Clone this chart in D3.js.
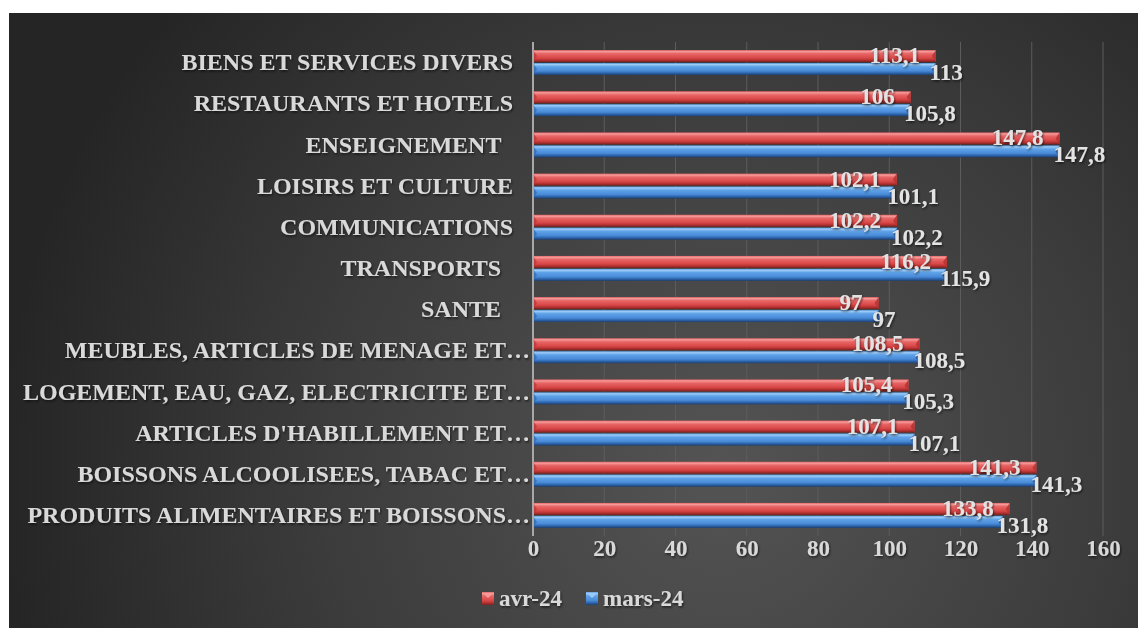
<!DOCTYPE html>
<html>
<head>
<meta charset="utf-8">
<script src="https://cdn.jsdelivr.net/npm/d3@7"></script>
<style>
  body { margin: 0; background: #fff; }
  svg text { font-family: "Liberation Serif", "Times New Roman", serif; font-weight: bold; white-space: pre; }
</style>
</head>
<body>
<div id="graph"></div>
<script>
// categories, top to bottom as shown
var categories = [
  "BIENS ET SERVICES DIVERS",
  "RESTAURANTS ET HOTELS",
  "ENSEIGNEMENT  ",
  "LOISIRS ET CULTURE",
  "COMMUNICATIONS",
  "TRANSPORTS  ",
  "SANTE  ",
  "MEUBLES, ARTICLES DE MENAGE ET\u2026",
  "LOGEMENT, EAU, GAZ, ELECTRICITE ET\u2026",
  "ARTICLES D'HABILLEMENT ET\u2026",
  "BOISSONS ALCOOLISEES, TABAC ET\u2026",
  "PRODUITS ALIMENTAIRES ET BOISSONS\u2026"
];
var seriesNames = ["avr-24", "mars-24"];
var avr24 = [113.1, 106, 147.8, 102.1, 102.2, 116.2, 97, 108.5, 105.4, 107.1, 141.3, 133.8];
var mars24 = [113, 105.8, 147.8, 101.1, 102.2, 115.9, 97, 108.5, 105.3, 107.1, 141.3, 131.8];
var xTicks = [0, 20, 40, 60, 80, 100, 120, 140, 160];

window.onload = start;

function start() {
    var width = 1138;
    var height = 628;

    var svg = d3.select('#graph')
        .append('svg')
        .attr('width', width)
        .attr('height', height);

    var defs = svg.append('defs');

    // dark background with a soft light patch
    var bg = defs.append('radialGradient')
        .attr('id', 'bg')
        .attr('gradientUnits', 'userSpaceOnUse')
        .attr('cx', 720).attr('cy', 470).attr('r', 720);
    bg.append('stop').attr('offset', '0%').attr('stop-color', '#545454');
    bg.append('stop').attr('offset', '55%').attr('stop-color', '#3c3c3c');
    bg.append('stop').attr('offset', '100%').attr('stop-color', '#252525');

    // soft shadow under the labels
    var sh = defs.append('filter').attr('id', 'shadow')
        .attr('x', '-10%').attr('y', '-20%').attr('width', '130%').attr('height', '150%');
    sh.append('feDropShadow')
        .attr('dx', 1).attr('dy', 1.5).attr('stdDeviation', 1)
        .attr('flood-color', '#000').attr('flood-opacity', 0.6);

    // bevelled bar fills
    var fills = {
        "avr-24": ['#f59a9a', '#e86565', '#d94848', '#b93434', '#7a2020'],
        "mars-24": ['#9ccaf6', '#5ea2e8', '#4a8bd8', '#2f68b0', '#1d3f70']
    };
    seriesNames.forEach(function(s, i) {
        var g = defs.append('linearGradient')
            .attr('id', 'fill' + i)
            .attr('x1', 0).attr('y1', 0).attr('x2', 0).attr('y2', 1);
        var c = fills[s];
        g.append('stop').attr('offset', '0%').attr('stop-color', c[1]);
        g.append('stop').attr('offset', '12%').attr('stop-color', c[0]);
        g.append('stop').attr('offset', '30%').attr('stop-color', c[1]);
        g.append('stop').attr('offset', '65%').attr('stop-color', c[2]);
        g.append('stop').attr('offset', '82%').attr('stop-color', c[3]);
        g.append('stop').attr('offset', '100%').attr('stop-color', c[4]);
    });

    svg.append('rect')
        .attr('x', 9).attr('y', 13)
        .attr('width', width - 9).attr('height', height - 13)
        .attr('fill', 'url(#bg)');

    var left = 533, right = 1103, top = 42, bottom = 536;

    var xScale = d3.scaleLinear().domain([0, 160]).range([left, right]);
    var yScale = d3.scaleBand()
        .domain(categories)
        .range([top, bottom])
        .paddingInner(0.37)
        .paddingOuter(0.185);
    var ySub = d3.scaleBand()
        .domain(seriesNames)
        .range([0, yScale.bandwidth()]);

    // gridlines
    svg.append('g')
        .selectAll('line')
        .data(xTicks.slice(1))
        .enter()
        .append('line')
        .attr('x1', function(d) { return xScale(d); })
        .attr('x2', function(d) { return xScale(d); })
        .attr('y1', top).attr('y2', bottom)
        .attr('stroke', '#5c5c5c')
        .attr('stroke-width', 1);

    // x axis labels
    var xAxis = d3.axisBottom(xScale).tickValues(xTicks).tickSize(0).tickPadding(0);
    var xg = svg.append('g')
        .attr('transform', 'translate(0,' + (bottom + 4) + ')')
        .call(xAxis);
    xg.select('.domain').remove();
    xg.selectAll('text')
        .attr('fill', '#d9d9d9')
        .attr('font-size', 23)
        .attr('filter', 'url(#shadow)')
        .attr('dy', '0.71em');

    // category labels; truncated ones run right up to the axis
    var yAxis = d3.axisLeft(yScale).tickSize(0).tickPadding(20);
    var yg = svg.append('g')
        .attr('transform', 'translate(' + left + ',0)')
        .call(yAxis);
    yg.select('.domain').remove();
    yg.selectAll('text')
        .attr('fill', '#d9d9d9')
        .attr('font-size', 24)
        .attr('dx', function(d) { return d.slice(-1) === '\u2026' ? 17 : 0; })
        .attr('filter', 'url(#shadow)');

    var rows = categories.map(function(c, i) {
        return { cat: c, values: [avr24[i], mars24[i]] };
    });

    var groups = svg.append('g')
        .selectAll('.row')
        .data(rows)
        .enter()
        .append('g')
        .attr('class', 'row')
        .attr('transform', function(d) { return 'translate(0,' + yScale(d.cat) + ')'; });

    var bars = groups.selectAll('.bar')
        .data(function(d) {
            return d.values.map(function(v, i) { return { s: seriesNames[i], i: i, v: v }; });
        })
        .enter();

    var bh = ySub.bandwidth();

    bars.append('rect')
        .attr('class', 'bar')
        .attr('x', xScale(0))
        .attr('y', function(d) { return ySub(d.s) + 0.5; })
        .attr('width', function(d) { return xScale(d.v) - xScale(0); })
        .attr('height', bh - 1)
        .attr('fill', function(d) { return 'url(#fill' + d.i + ')'; });

    // bevelled right end
    bars.append('path')
        .attr('d', function(d) {
            var x = xScale(d.v), y = ySub(d.s) + 0.5, h = bh - 1, e = 4;
            return 'M' + (x - e) + ',' + (y + h / 2) +
                'L' + x + ',' + y + 'L' + x + ',' + (y + h) + 'Z';
        })
        .attr('fill', function(d) { return fills[d.s][3]; })
        .attr('opacity', 0.9);

    // left bevel chevron
    bars.append('path')
        .attr('d', function(d) {
            var x = xScale(0), y = ySub(d.s) + 0.5, h = bh - 1;
            return 'M' + x + ',' + y + 'L' + (x + 4) + ',' + (y + h / 2) +
                'L' + x + ',' + (y + h) + 'Z';
        })
        .attr('fill', function(d) { return fills[d.s][3]; })
        .attr('opacity', 0.7);

    // value labels
    bars.append('text')
        .attr('x', function(d) { return d.i === 0 ? xScale(d.v) - 16 : xScale(d.v) - 6; })
        .attr('y', function(d) { return d.i === 0 ? ySub(d.s) + bh / 2 - 1 : ySub(d.s) + bh / 2 + 3; })
        .attr('dy', '0.35em')
        .attr('text-anchor', function(d) { return d.i === 0 ? 'end' : 'start'; })
        .attr('fill', '#e3e3e3')
        .attr('font-size', 23)
        .attr('filter', 'url(#shadow)')
        .text(function(d) { return String(d.v).replace('.', ','); });

    // axis line at zero
    svg.append('line')
        .attr('x1', xScale(0)).attr('x2', xScale(0))
        .attr('y1', top).attr('y2', bottom)
        .attr('stroke', '#a8a8a8')
        .attr('stroke-width', 2);

    // legend
    var legend = svg.append('g')
        .selectAll('.leg')
        .data(seriesNames)
        .enter()
        .append('g')
        .attr('class', 'leg')
        .attr('transform', function(d, i) { return 'translate(' + (482 + i * 104) + ',592)'; });

    legend.append('rect')
        .attr('width', 12).attr('height', 13)
        .attr('fill', function(d, i) { return 'url(#fill' + i + ')'; });
    legend.append('path')
        .attr('d', 'M1,1L11,1L6,6Z')
        .attr('fill', function(d) { return fills[d][0]; });

    legend.append('text')
        .attr('x', 17).attr('y', 14)
        .attr('fill', '#d9d9d9')
        .attr('font-size', 23)
        .attr('filter', 'url(#shadow)')
        .text(function(d) { return d; });
}
</script>
</body>
</html>
